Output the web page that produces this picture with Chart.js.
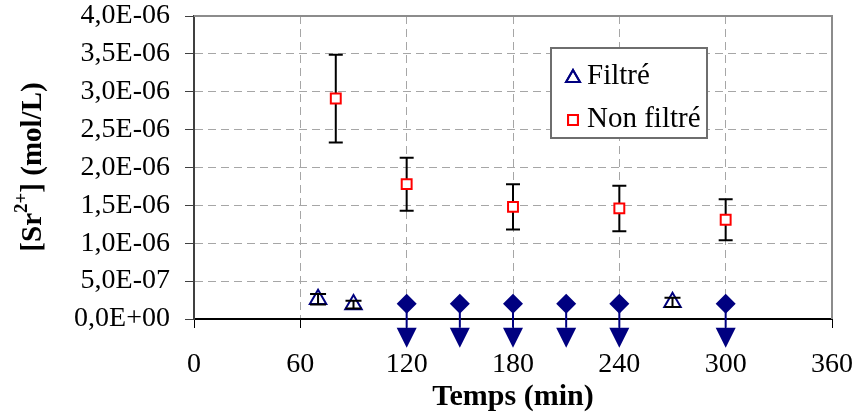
<!DOCTYPE html>
<html>
<head>
<meta charset="utf-8">
<script src="https://cdn.jsdelivr.net/npm/chart.js@4.4.1/dist/chart.umd.min.js"></script>
<style>
  html, body { margin: 0; padding: 0; background: #fff; }
  #wrap { width: 856px; height: 416px; }
</style>
</head>
<body>
<div id="wrap"><canvas id="chart" width="856" height="416"></canvas></div>
<script>
// data
const filtX = [70, 90, 270];
const filtY = [2.6e-7, 1.9e-7, 2.2e-7];
const filtErr = [0.7e-7, 0.5e-7, 0.6e-7];

const nonFiltX = [80, 120, 180, 240, 300];
const nonFiltY = [2.91e-6, 1.78e-6, 1.48e-6, 1.46e-6, 1.31e-6];
const nonFiltErr = [0.58e-6, 0.35e-6, 0.30e-6, 0.30e-6, 0.27e-6];

// below detection limit (arrow pointing down)
const ldX = [120, 150, 180, 210, 240, 300];
const ldY = [2.0e-7, 2.0e-7, 2.0e-7, 2.0e-7, 2.0e-7, 2.0e-7];
const ldArrowTip = -3.8e-7;

const xTickLabels = ["0", "60", "120", "180", "240", "300", "360"];
const yTickLabels = ["0,0E+00", "5,0E-07", "1,0E-06", "1,5E-06", "2,0E-06",
                     "2,5E-06", "3,0E-06", "3,5E-06", "4,0E-06"];

const NAVY = "#000080";
const RED = "#ff0000";
const SERIF = "'Liberation Serif', 'DejaVu Serif', serif";

const toPts = (xs, ys) => xs.map((x, i) => ({ x: x, y: ys[i] }));

// error bars + arrows, drawn under the markers
const errorBars = {
    id: "errorBars",
    beforeDatasetsDraw(chart) {
        const { ctx, scales: { x, y }, chartArea } = chart;
        ctx.save();

        // top and right frame
        ctx.strokeStyle = "#8c8c8c";
        ctx.lineWidth = 2;
        ctx.beginPath();
        ctx.moveTo(chartArea.left, chartArea.top);
        ctx.lineTo(chartArea.right, chartArea.top);
        ctx.lineTo(chartArea.right, chartArea.bottom);
        ctx.stroke();

        ctx.strokeStyle = "#000";
        ctx.lineWidth = 2;
        nonFiltX.forEach((xv, i) => {
            const px = x.getPixelForValue(xv);
            const top = y.getPixelForValue(nonFiltY[i] + nonFiltErr[i]);
            const bot = y.getPixelForValue(nonFiltY[i] - nonFiltErr[i]);
            ctx.beginPath();
            ctx.moveTo(px, top);
            ctx.lineTo(px, bot);
            ctx.moveTo(px - 7, top);
            ctx.lineTo(px + 7, top);
            ctx.moveTo(px - 7, bot);
            ctx.lineTo(px + 7, bot);
            ctx.stroke();
        });

        // arrows under the diamonds
        ctx.strokeStyle = NAVY;
        ctx.fillStyle = NAVY;
        ldX.forEach((xv, i) => {
            const px = x.getPixelForValue(xv);
            const py = y.getPixelForValue(ldY[i]);
            const tip = y.getPixelForValue(ldArrowTip);
            const base = tip - 20;
            ctx.lineWidth = 2;
            ctx.beginPath();
            ctx.moveTo(px, py);
            ctx.lineTo(px, base);
            ctx.stroke();
            ctx.beginPath();
            ctx.moveTo(px - 10, base);
            ctx.lineTo(px + 10, base);
            ctx.lineTo(px, tip);
            ctx.closePath();
            ctx.fill();
        });
        ctx.restore();
    },
    afterDatasetsDraw(chart) {
        const { ctx, scales: { x, y } } = chart;
        ctx.save();
        ctx.strokeStyle = "#000";
        ctx.lineWidth = 2;
        filtX.forEach((xv, i) => {
            const px = x.getPixelForValue(xv);
            const top = y.getPixelForValue(filtY[i] + filtErr[i]);
            const bot = y.getPixelForValue(filtY[i] - filtErr[i]);
            ctx.beginPath();
            ctx.moveTo(px, top);
            ctx.lineTo(px, bot);
            ctx.moveTo(px - 8, top);
            ctx.lineTo(px + 8, top);
            ctx.moveTo(px - 8, bot);
            ctx.lineTo(px + 8, bot);
            ctx.stroke();
        });
        ctx.restore();
    }
};

// y title with superscript, and the boxed legend inside the plot
const decorations = {
    id: "decorations",
    afterDraw(chart) {
        const ctx = chart.ctx;
        ctx.save();

        // y axis title
        ctx.translate(31, 167);
        ctx.rotate(-Math.PI / 2);
        const big = "bold 29px " + SERIF;
        const small = "bold 19px " + SERIF;
        ctx.font = big;
        const w1 = ctx.measureText("[Sr").width;
        const w3 = ctx.measureText("] (mol/L)").width;
        ctx.font = small;
        const w2 = ctx.measureText("2+").width;
        let cx = -(w1 + w2 + w3) / 2;
        ctx.fillStyle = "#000";
        ctx.textBaseline = "alphabetic";
        ctx.font = big;
        ctx.fillText("[Sr", cx, 10);
        cx += w1;
        ctx.font = small;
        ctx.fillText("2+", cx, -4);
        cx += w2;
        ctx.font = big;
        ctx.fillText("] (mol/L)", cx, 10);
        ctx.setTransform(1, 0, 0, 1, 0, 0);

        // legend
        ctx.fillStyle = "#fff";
        ctx.fillRect(551, 48, 156, 90);
        ctx.strokeStyle = "#6e6e6e";
        ctx.lineWidth = 2;
        ctx.strokeRect(551, 48, 156, 90);

        ctx.lineWidth = 2;
        ctx.strokeStyle = NAVY;
        Chart.helpers.drawPoint(ctx, { pointStyle: "triangle", radius: 8, rotation: 0, borderWidth: 2 }, 573, 78);
        ctx.stroke();
        ctx.strokeStyle = RED;
        Chart.helpers.drawPoint(ctx, { pointStyle: "rect", radius: 7, rotation: 0, borderWidth: 2 }, 573, 120);
        ctx.stroke();

        ctx.fillStyle = "#000";
        ctx.font = "29px " + SERIF;
        ctx.textBaseline = "middle";
        ctx.textAlign = "left";
        ctx.fillText("Filtré", 587, 76);
        ctx.fillText("Non filtré", 587, 119);
        ctx.restore();
    }
};

new Chart(document.getElementById("chart"), {
    type: "scatter",
    data: {
        datasets: [
            {
                label: "Filtré",
                data: toPts(filtX, filtY),
                pointStyle: "triangle",
                pointRadius: 9.5,
                pointBorderWidth: 2,
                borderColor: NAVY,
                backgroundColor: "rgba(0,0,0,0)"
            },
            {
                label: "Non filtré",
                data: toPts(nonFiltX, nonFiltY),
                pointStyle: "rect",
                pointRadius: 7,
                pointBorderWidth: 2,
                borderColor: RED,
                backgroundColor: "#fff"
            },
            {
                label: "LD",
                data: toPts(ldX, ldY),
                pointStyle: "rectRot",
                pointRadius: 10,
                pointBorderWidth: 0,
                borderColor: NAVY,
                backgroundColor: NAVY,
                clip: false
            }
        ]
    },
    options: {
        responsive: false,
        animation: false,
        layout: { padding: 0 },
        plugins: {
            legend: { display: false },
            tooltip: { enabled: false }
        },
        scales: {
            x: {
                type: "linear",
                min: 0,
                max: 360,
                afterFit: (scale) => {
                    scale.height = 97;
                    scale.paddingLeft = 0;
                    scale.paddingRight = 24;
                },
                ticks: {
                    stepSize: 60,
                    padding: 20,
                    color: "#000",
                    font: { family: SERIF, size: 28 },
                    maxRotation: 0,
                    autoSkip: false,
                    callback: (v, i) => xTickLabels[i]
                },
                grid: {
                    color: "#a6a6a6",
                    lineWidth: 1,
                    tickLength: 9,
                    tickColor: "#000",
                    tickBorderDash: []
                },
                border: { color: "#000", width: 2, dash: [8, 5] },
                title: {
                    display: true,
                    text: "Temps (min)",
                    color: "#000",
                    font: { family: SERIF, size: 30, weight: "bold" },
                    padding: { top: 0, bottom: 1 }
                }
            },
            y: {
                min: 0,
                max: 4e-6,
                afterFit: (scale) => {
                    scale.width = 194;
                    scale.paddingTop = 16;
                    scale.paddingBottom = 0;
                },
                ticks: {
                    stepSize: 5e-7,
                    padding: 15,
                    color: "#000",
                    font: { family: SERIF, size: 28 },
                    autoSkip: false,
                    callback: (v, i) => yTickLabels[i]
                },
                grid: {
                    color: "#a6a6a6",
                    lineWidth: 1,
                    tickLength: 9,
                    tickColor: "#404040",
                    tickBorderDash: []
                },
                border: { color: "#404040", width: 2, dash: [8, 5] }
            }
        }
    },
    plugins: [errorBars, decorations]
});
</script>
</body>
</html>
